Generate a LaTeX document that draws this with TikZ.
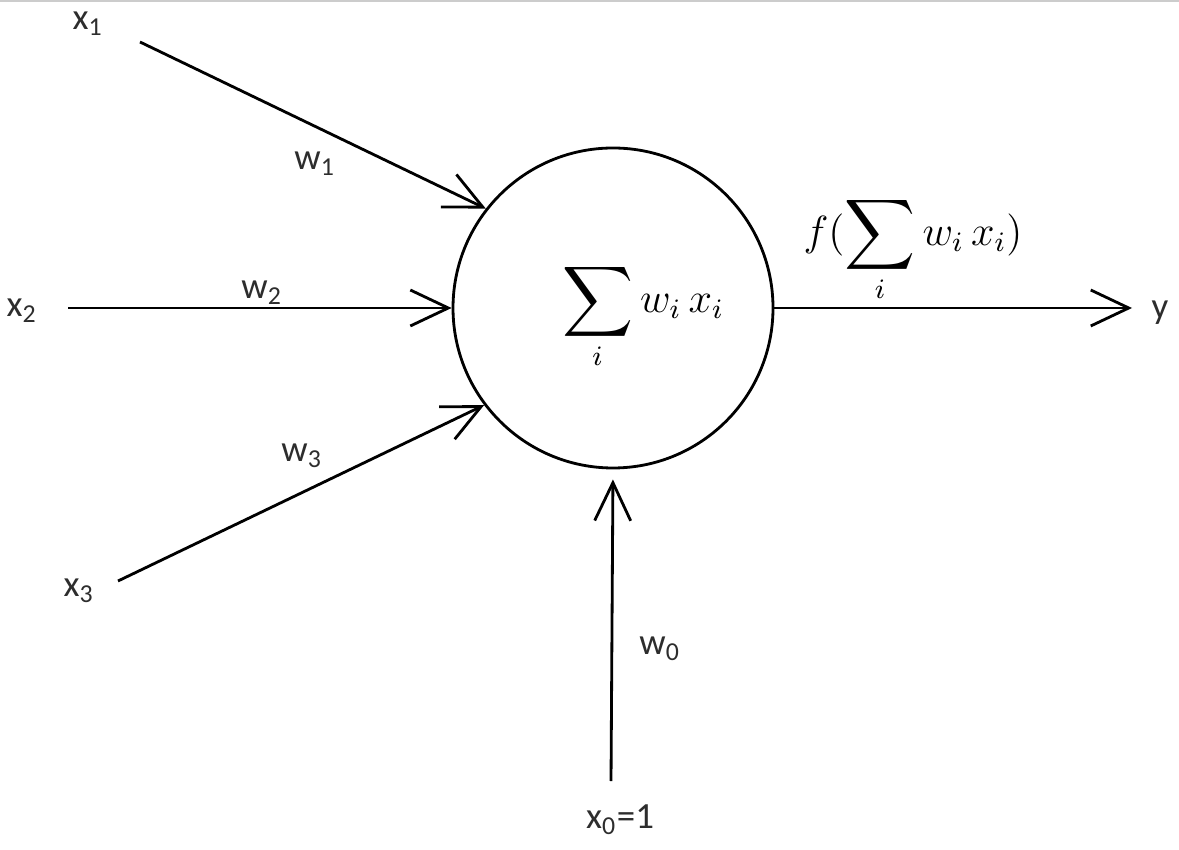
\documentclass[tikz,border=0pt]{standalone}
\usepackage{fontspec}
\setmainfont{Carlito}
\usepackage{tikz}
\usetikzlibrary{arrows.meta,positioning,calc}
\definecolor{clab}{RGB}{45,45,45}
\newcommand\bigsum{\mathop{\vcenter{\hbox{\scalebox{1.4}{$\displaystyle\sum$}}}}\limits}

\begin{document}
\begin{tikzpicture}[
  font=\fontsize{10.5}{12}\selectfont,
  lab/.style={anchor=center,text=clab,inner sep=0pt},
  neuron/.style={draw,thick,circle,minimum size=3.2cm,inner sep=0pt},
  link/.style={-{Straight Barb[length=0.38cm,width=0.36cm]},thick}
]
\useasboundingbox (0,0) rectangle (11.79,8.49);
\draw[black!20,line width=0.6pt] (0,8.48) -- (11.79,8.48);

% ---- neuron ----
\node[neuron] (sum) at (6.13,5.41) {};
\node (sumtxt) at (6.43,5.33) {\large$\displaystyle\bigsum_i w_i\,x_i$};
\node (act) at (9.13,6.00) {\large$\displaystyle f(\bigsum_i w_i\,x_i)$};

% ---- inputs ----
\node[lab] (x1) at (0.88,8.25) {x\textsubscript{1}};
\node[lab] (x2) at (0.22,5.38) {x\textsubscript{2}};
\node[lab] (x3) at (0.79,2.58) {x\textsubscript{3}};
\node[lab] (x0) at (6.20,0.29) {x\textsubscript{0}=1};
\node[lab] (y) at (11.60,5.36) {y};

\node[lab] (w1) at (3.15,6.85) {w\textsubscript{1}};
\node[lab] (w2) at (2.62,5.56) {w\textsubscript{2}};
\node[lab] (w3) at (3.02,3.93) {w\textsubscript{3}};
\node[lab] (w0) at (6.60,2.00) {w\textsubscript{0}};

\coordinate (in1) at (1.40,8.07);
\coordinate (in2) at (0.68,5.41);
\coordinate (in3) at (1.18,2.68);
\coordinate (in0) at (6.11,0.68);
\coordinate (out) at (11.32,5.41);

% ---- connectors ----
\draw[link] (in1) -- (sum.142.7);
\draw[link] (in2) -- (sum.180);
\draw[link] (in3) -- (sum.217.3);
\draw[link,shorten >=0.1cm] (in0) -- (sum.south);
\draw[link] (sum.0) -- (out);
\end{tikzpicture}
\end{document}
